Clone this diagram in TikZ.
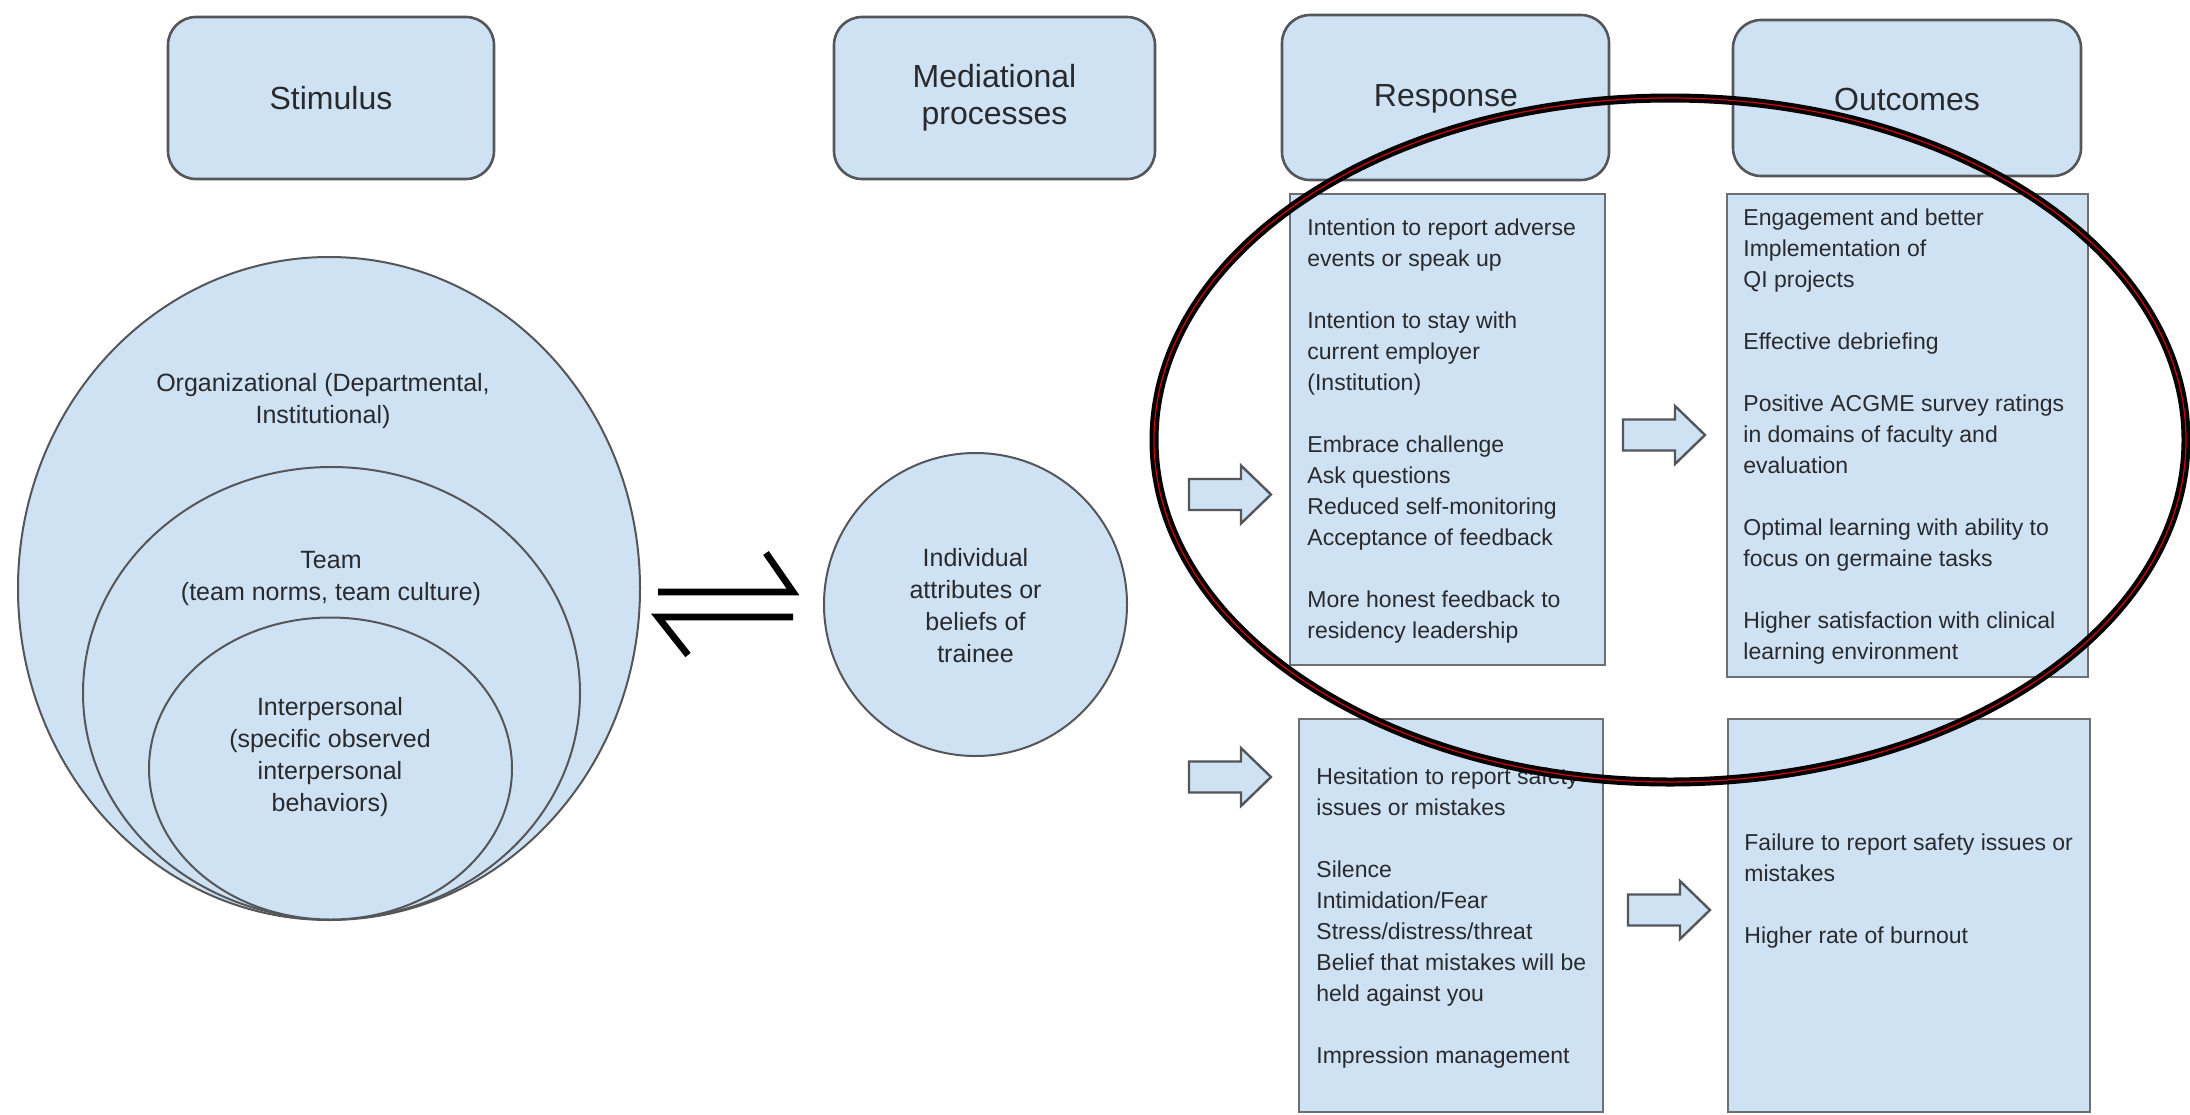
\documentclass[tikz,border=0pt]{standalone}
\usepackage{fontspec}
\setmainfont{Liberation Sans}
\usetikzlibrary{positioning}

\definecolor{boxblue}{RGB}{207,226,243}
\definecolor{edgegrey}{RGB}{84,86,90}
\definecolor{textgrey}{RGB}{40,42,46}

\tikzset{
  headbox/.style={draw=edgegrey, fill=boxblue, line width=1.3pt, rounded corners=14pt},
  listbox/.style={draw=edgegrey!85, fill=boxblue, line width=1.2pt},
  ring/.style={draw=edgegrey, fill=boxblue, line width=1pt},
  headtext/.style={font=\fontsize{16}{18.5}\selectfont, text=textgrey, align=center, inner sep=0pt},
  listtext/.style={font=\fontsize{11.5}{15.5}\selectfont, text=textgrey, align=left, anchor=north west, inner sep=0pt},
  ringtext/.style={font=\fontsize{12.5}{16}\selectfont, text=textgrey, align=center, inner sep=0pt},
  harpoon/.style={line width=3.4pt, black, line join=miter},
  blockarr/.pic={
    \draw[draw=edgegrey, fill=boxblue, line width=1.2pt] (0,-15.5) -- (52,-15.5) -- (52,-29) -- (82,0) -- (52,29) -- (52,15.5) -- (0,15.5) -- cycle;
  }
}

\begin{document}
\begin{tikzpicture}[x=0.5pt,y=0.5pt,yscale=-1,xscale=1]
\fill[white] (0,0) rectangle (2190,1114);
\useasboundingbox (0,0) rectangle (2190,1114);

%Shape: Ellipse [stimulus levels]
\draw[ring] (329,588.5) ellipse [x radius=311, y radius=331.5];
\draw[ring] (331.5,693) ellipse [x radius=248.5, y radius=226];
\draw[ring] (330.5,768.5) ellipse [x radius=181.5, y radius=151];
%Shape: Circle [trainee]
\draw[ring] (975.5,604.5) circle [radius=151.5];

%Shape: Rounded Rectangle [headers]
\draw[headbox] (168,17) rectangle (494,179);
\draw[headbox] (834,17) rectangle (1155,179);
\draw[headbox] (1282,15) rectangle (1609,180);
\draw[headbox] (1733,20) rectangle (2081,176);

%Shape: Rectangle [lists]
\draw[listbox] (1290,194) rectangle (1605,665);
\draw[listbox] (1727,194) rectangle (2088,677);
\draw[listbox] (1299,719) rectangle (1603,1112);
\draw[listbox] (1728,719) rectangle (2090,1112);

%Shape: Right Arrow
\pic (arrRespTop) at (1189,494.5) {blockarr};
\pic (arrOutTop) at (1623,435) {blockarr};
\pic (arrRespBot) at (1189,777) {blockarr};
\pic (arrOutBot) at (1628,910) {blockarr};

%Straight Lines [harpoons]
\coordinate (harpTopL) at (658,592);
\coordinate (harpTopR) at (793,592);
\coordinate (harpTopBarb) at (766,553);
\coordinate (harpBotL) at (658,617);
\coordinate (harpBotR) at (793,617);
\coordinate (harpBotBarb) at (688,655);
\draw[harpoon] (harpTopL) -- (harpTopR) -- (harpTopBarb);
\draw[harpoon] (harpBotBarb) -- (harpBotL) -- (harpBotR);

% Text Node
\node[headtext] (stimulus) at (331,98) {Stimulus};
% Text Node
\node[headtext] (mediation) at (994.5,98) {Mediational\\processes};
% Text Node
\node[headtext] (response) at (1446,99) {Response};
% Text Node
\node[headtext] (outcomes) at (1907,99) {Outcomes};

% Text Node
\node[ringtext] (organizational) at (323,401) {Organizational (Departmental,\\Institutional)};
% Text Node
\node[ringtext] (team) at (331,578.5) {Team\\(team norms, team culture)};
% Text Node
\node[ringtext] (interpersonal) at (330,757) {Interpersonal\\(specific observed\\interpersonal\\behaviors)};
% Text Node
\node[ringtext] (trainee) at (975.5,606) {Individual\\attributes or\\beliefs of\\trainee};

% Text Node
\node[listtext] (respGood) at (1307,218) {Intention to report adverse\\events or speak up\\[15.5pt]Intention to stay with\\current employer\\(Institution)\\[15.5pt]Embrace challenge\\Ask questions\\Reduced self-monitoring\\Acceptance of feedback\\[15.5pt]More honest feedback to\\residency leadership};
% Text Node
\node[listtext] (outGood) at (1743,208) {Engagement and better\\Implementation of\\QI projects\\[15.5pt]Effective debriefing\\[15.5pt]Positive ACGME survey ratings\\in domains of faculty and\\evaluation\\[15.5pt]Optimal learning with ability to\\focus on germaine tasks\\[15.5pt]Higher satisfaction with clinical\\learning environment};
% Text Node
\node[listtext] (respBad) at (1316,767) {Hesitation to report safety\\issues or mistakes\\[15.5pt]Silence\\Intimidation/Fear\\Stress/distress/threat\\Belief that mistakes will be\\held against you\\[15.5pt]Impression management};
% Text Node
\node[listtext] (outBad) at (1744,833) {Failure to report safety issues or\\mistakes\\[15.5pt]Higher rate of burnout};

%Shape: Ellipse [highlight]
\draw[line width=4.5pt, black] (1670,440) ellipse [x radius=516, y radius=342];
\draw[line width=0.6pt, red!85!black] (1670,440) ellipse [x radius=516, y radius=342];

\end{tikzpicture}
\end{document}
